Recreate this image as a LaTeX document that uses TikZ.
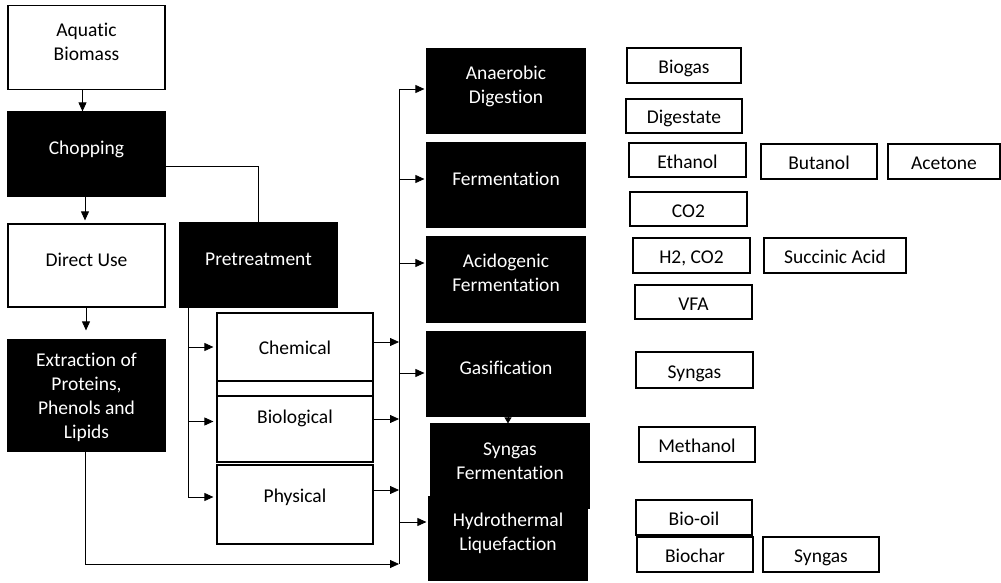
\documentclass[tikz,border=0pt]{standalone}
\usepackage{fontspec}
\setmainfont{Carlito}[Ligatures=NoCommon]
\usetikzlibrary{arrows.meta,calc}

% text in the large boxes sits a little above the middle
\newcommand{\lift}[2][4pt]{\raisebox{#1}[\height][\depth]{\begin{tabular}{@{}c@{}}#2\end{tabular}}}

\tikzset{
  stage/.style={draw, line width=1.2pt, minimum width=157pt, minimum height=84pt,
    inner sep=0pt, font=\fontsize{19.5}{24}\selectfont},
  darkstage/.style={stage, fill=black, text=white},
  product/.style={draw, line width=1.2pt, minimum width=116pt, minimum height=35pt,
    inner sep=0pt, text height=16pt, text depth=0pt, font=\fontsize{19.5}{24}\selectfont},
  link/.style={line width=0.8pt},
  arr/.style={link, -{Triangle[length=9pt,width=8pt]}},
  smallarr/.style={link, -{Triangle[length=6pt,width=7pt]}},
}

\begin{document}
\begin{tikzpicture}[x=1pt,y=-1pt]
  \useasboundingbox (0,0) rectangle (1001,583);

  % Left column
  \node[stage] (aquatic) at (86.5,47.5) {\lift{Aquatic\\Biomass}};
  \node[darkstage] (chopping) at (86.5,154) {\lift{Chopping}};
  \node[stage, minimum height=83pt] (direct) at (86.5,265.5) {\lift{Direct Use}};
  \node[darkstage, minimum height=111pt] (extract) at (86.5,395.5)
    {\lift[-2.5pt]{Extraction of\\Proteins,\\Phenols and\\Lipids}};

  % Pretreatment and its routes
  \node[darkstage] (pretreat) at (258.5,265) {\lift{Pretreatment}};
  \node[stage, minimum width=156pt, minimum height=83pt] (chemical) at (295,354.5) {\lift[4.5pt]{Chemical}};
  \node[stage, minimum width=156pt, minimum height=81pt] (biological) at (295,421.5) {\lift[2.5pt]{Biological}};
  \node[stage, minimum width=156pt, minimum height=79pt] (physical) at (295,504.5) {\lift[6.5pt]{Physical}};

  % Conversion processes
  \node[darkstage, minimum width=158pt] (anaerobic) at (506,91) {\lift{Anaerobic\\Digestion}};
  \node[darkstage, minimum width=158pt] (ferment) at (506,185) {\lift{Fermentation}};
  \node[darkstage, minimum width=158pt, minimum height=85pt] (acido) at (506,279.5) {\lift[4.5pt]{Acidogenic\\Fermentation}};
  \node[darkstage, minimum width=158pt] (gasif) at (506,374) {\lift{Gasification}};
  \node[darkstage, minimum width=158pt, minimum height=83pt] (hydro) at (508,538.5) {\lift[4.5pt]{Hydrothermal\\Liquefaction}};
  \node[darkstage, minimum width=158pt] (syngasferm) at (510,466) {\lift[3pt]{Syngas\\Fermentation}};

  % Products
  \node[product, minimum width=114pt] (biogas) at (684,65.5) {Biogas};
  \node[product, minimum height=34pt] (digestate) at (684,116) {Digestate};
  \node[product, minimum width=117pt, minimum height=34pt] (ethanol) at (687.5,160) {Ethanol};
  \node[product] (butanol) at (819,161.5) {Butanol};
  \node[product, minimum width=112pt] (acetone) at (944,161.5) {Acetone};
  \node[product, minimum width=117pt, minimum height=34pt] (co2) at (688.5,209) {CO2};
  \node[product, minimum width=117pt] (h2co2) at (691.5,255.5) {H2, CO2};
  \node[product, minimum width=142pt] (succinic) at (835,255.5) {Succinic Acid};
  \node[product, minimum width=117pt, minimum height=34pt] (vfa) at (693.5,302) {VFA};
  \node[product, minimum width=117pt, minimum height=36pt] (syngas) at (694.5,370) {Syngas};
  \node[product] (methanol) at (697,444.5) {Methanol};
  \node[product] (biooil) at (694,517.5) {Bio-oil};
  \node[product] (biochar) at (695,554.5) {Biochar};
  \node[product] (syngastwo) at (821,554.5) {Syngas};

  % Left column arrows
  \draw[arr] ([xshift=-4pt]aquatic.south) -- ([xshift=-4pt]chopping.north);
  \draw[arr] ([xshift=-1.5pt]chopping.south) -- ([xshift=-1.5pt,yshift=3pt]direct.north);
  \draw[arr] ([xshift=-0.5pt]direct.south) -- ([xshift=-0.5pt,yshift=9pt]extract.north);
  \draw[link] ([yshift=-12pt]chopping.east) -| (pretreat.north);

  % Pretreatment to its routes
  \coordinate (ptrunk) at ([xshift=-70.5pt]pretreat.south);
  \draw[arr, shorten >=3pt] (ptrunk) |- ([yshift=7.5pt]chemical.west);
  \draw[arr, shorten >=3pt] (ptrunk) |- (biological.west);
  \draw[arr, shorten >=3pt] (ptrunk) |- ([yshift=7.5pt]physical.west);

  % Collecting line
  \coordinate (bustop) at (399,89);
  \coordinate (busbot) at (399,564);
  \draw[link] (bustop) -- (busbot);
  \draw[arr] ([yshift=12.5pt]chemical.east) -- ([yshift=12.5pt]chemical.east -| bustop);
  \draw[arr] ([yshift=2.5pt]biological.east) -- ([yshift=2.5pt]biological.east -| bustop);
  \draw[arr] ([yshift=14.5pt]physical.east) -- ([yshift=14.5pt]physical.east -| bustop);
  \draw[arr] ([xshift=-1.5pt]extract.south) |- (busbot);

  \draw[arr, shorten >=2pt] ([yshift=2pt]anaerobic.west -| bustop) -- ([yshift=2pt]anaerobic.west);
  \draw[arr, shorten >=2pt] ([yshift=6pt]ferment.west -| bustop) -- ([yshift=6pt]ferment.west);
  \draw[arr, shorten >=2pt] ([yshift=16.5pt]acido.west -| bustop) -- ([yshift=16.5pt]acido.west);
  \draw[arr, shorten >=2pt] ([yshift=1pt]gasif.west -| bustop) -- ([yshift=1pt]gasif.west);
  \draw[arr, shorten >=2pt] ([yshift=16.5pt]hydro.west -| bustop) -- ([yshift=16.5pt]hydro.west);

  \draw[smallarr] ([xshift=2pt]gasif.south) -- ([xshift=-2pt]syngasferm.north);
\end{tikzpicture}
\end{document}
